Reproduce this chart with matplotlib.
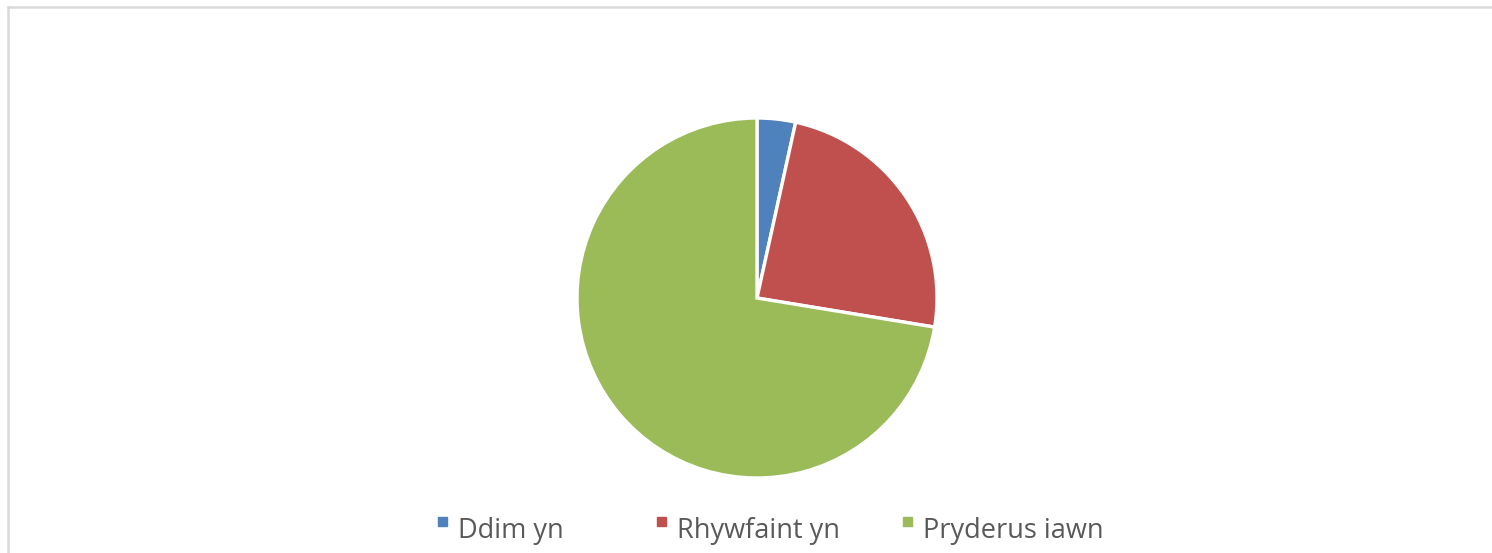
import matplotlib
matplotlib.use("Agg")
import matplotlib.pyplot as plt
from matplotlib.lines import Line2D
from matplotlib.patches import Rectangle

categories = ["Ddim yn", "Rhywfaint yn", "Pryderus iawn"]
values = [1, 7, 21]
colors = ["#4F81BD", "#C0504D", "#9BBB59"]

W, H = 1492, 553
fig = plt.figure(figsize=(W / 100, H / 100), dpi=100)

# chart border (only top and left visible in the crop)
fig.add_artist(Line2D([7.5 / W, 1.0], [1 - 6.5 / H, 1 - 6.5 / H], color="#d9d9d9", lw=1.8))
fig.add_artist(Line2D([7.5 / W, 7.5 / W], [0.0, 1 - 6.5 / H], color="#d9d9d9", lw=1.8))

# pie centred at about (757, 298) px, radius ~180 px
cx, cy, r = 757, 298, 180
ax = fig.add_axes([(cx - r) / W, 1 - (cy + r) / H, 2 * r / W, 2 * r / H])
ax.pie(values, colors=colors, startangle=90, counterclock=False,
       wedgeprops=dict(edgecolor="white", linewidth=2.4))
ax.set_xlim(-1, 1)
ax.set_ylim(-1, 1)
ax.set_aspect("equal")
ax.axis("off")

# legend along the bottom
leg_x = [438, 657, 903]
for x, lab, c in zip(leg_x, categories, colors):
    fig.add_artist(Rectangle((x / W, 1 - 526 / H), 9 / W, 9 / H, color=c))
    fig.text((x + 20) / W, 1 - 531 / H, lab, fontsize=19.5, color="#595959",
             family="Open Sans", va="center", ha="left")

fig.savefig("out.png", dpi=100)
